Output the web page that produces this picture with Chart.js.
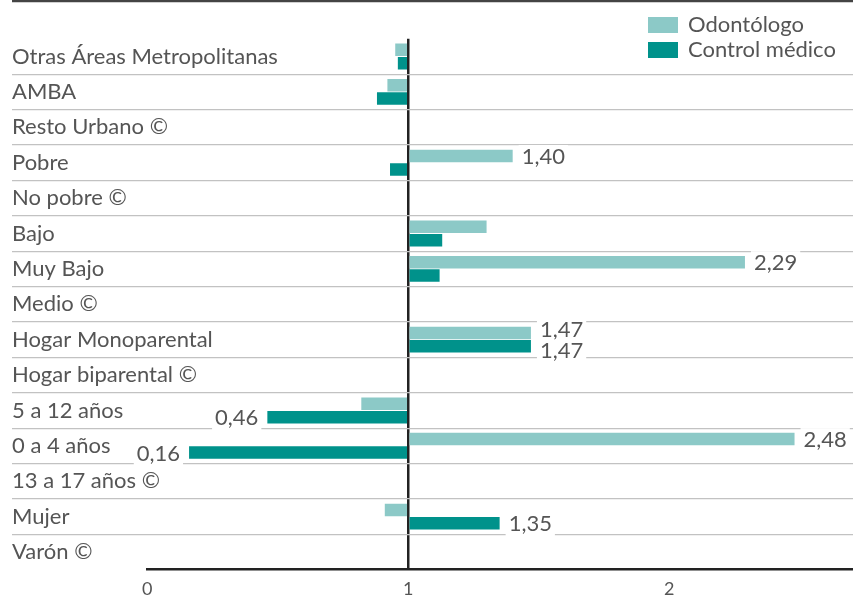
<!DOCTYPE html>
<html>
<head>
<meta charset="utf-8">
<script src="https://cdn.jsdelivr.net/npm/chart.js@4.4.0/dist/chart.umd.min.js"></script>
<style>
  html, body { margin: 0; padding: 0; background: #fff; }
  #wrap { width: 853px; height: 597px; position: relative; }
</style>
</head>
<body>
<div id="wrap"><canvas id="grafico"></canvas></div>
<script>
const categorias = ['Otras Áreas Metropolitanas', 'AMBA', 'Resto Urbano ©', 'Pobre', 'No pobre ©', 'Bajo', 'Muy Bajo', 'Medio ©',
  'Hogar Monoparental', 'Hogar biparental ©', '5 a 12 años', '0 a 4 años', '13 a 17 años ©', 'Mujer', 'Varón ©'];
const odontologo = [0.95, 0.92, null, 1.40, null, 1.30, 2.29, null, 1.47, null, 0.82, 2.48, null, 0.91, null];
const controlMedico = [0.96, 0.88, null, 0.93, null, 1.13, 1.12, null, 1.47, null, 0.46, 0.16, null, 1.35, null];
// which values carry a printed label
const odontologoRotulo = [0, 0, 0, 1, 0, 0, 1, 0, 1, 0, 0, 1, 0, 0, 0];
const controlRotulo = [0, 0, 0, 0, 0, 0, 0, 0, 1, 0, 1, 1, 0, 1, 0];
const ticksX = [0, 1, 2];

Chart.defaults.font.family = 'Lato';
Chart.defaults.color = '#555';

const gris = '#555';
const anchoEje = 135.3;

// value labels with white background, top rule and legend
const rotulos = {
  id: 'rotulos',
  afterDatasetsDraw(chart) {
    const ctx = chart.ctx;
    const sx = chart.scales.x;
    ctx.save();
    ctx.font = '22px Lato';
    ctx.textBaseline = 'middle';
    chart.data.datasets.forEach((ds, di) => {
      const meta = chart.getDatasetMeta(di);
      const otro = chart.data.datasets[1 - di];
      meta.data.forEach((bar, i) => {
        if (!ds.rotulo[i]) return;
        const v = ds.data[i];
        const txt = v.toFixed(2).replace('.', ',');
        const px = sx.getPixelForValue(v);
        let y = bar.y + 1;
        if (otro.rotulo[i] && Math.abs(otro.data[i] - v) < 0.15) y += di === 0 ? -4 : 4;
        const w = ctx.measureText(txt).width;
        let tx;
        if (v >= 1) { ctx.textAlign = 'left'; tx = px + 9; }
        else { ctx.textAlign = 'right'; tx = px - 9; }
        const left = v >= 1 ? tx - 3 : tx - w - 3;
        ctx.fillStyle = '#fff';
        ctx.fillRect(left, y - 12, w + 6, 24);
        ctx.fillStyle = gris;
        ctx.fillText(txt, tx, y);
      });
    });
    ctx.restore();
  },
  afterDraw(chart) {
    const ctx = chart.ctx;
    ctx.save();
    ctx.strokeStyle = '#444';
    ctx.lineWidth = 2.5;
    ctx.beginPath();
    ctx.moveTo(12, 1);
    ctx.lineTo(chart.width, 1);
    ctx.stroke();
    ctx.font = '22px Lato';
    ctx.textBaseline = 'middle';
    ctx.textAlign = 'left';
    chart.data.datasets.forEach((ds, di) => {
      const y = 17 + di * 25;
      ctx.fillStyle = ds.backgroundColor;
      ctx.fillRect(648, y, 30, 16);
      ctx.fillStyle = gris;
      ctx.fillText(ds.label, 688, y + 8);
    });
    ctx.restore();
  }
};

new Chart(document.getElementById('grafico'), {
  type: 'bar',
  data: {
    labels: categorias,
    datasets: [
      { label: 'Odontólogo', data: odontologo, rotulo: odontologoRotulo, base: 1, backgroundColor: '#8cc9c7' },
      { label: 'Control médico', data: controlMedico, rotulo: controlRotulo, base: 1, backgroundColor: '#00928b' }
    ]
  },
  options: {
    indexAxis: 'y',
    responsive: true,
    maintainAspectRatio: false,
    animation: false,
    categoryPercentage: 0.76,
    barPercentage: 0.93,
    layout: { padding: { left: 12, top: 38.8, right: 0, bottom: 0 } },
    plugins: { legend: { display: false }, tooltip: { enabled: false } },
    scales: {
      x: {
        min: 0,
        max: 2.704,
        afterBuildTicks: s => { s.ticks = ticksX.map(v => ({ value: v })); },
        afterFit: s => { s.height = 27.3; },
        ticks: { font: { size: 18 }, color: gris, padding: 9, callback: v => String(v) },
        grid: {
          drawTicks: false,
          color: c => (c.tick && c.tick.value === 1 ? '#222' : 'rgba(0,0,0,0)'),
          lineWidth: c => (c.tick && c.tick.value === 1 ? 2.5 : 0)
        },
        border: { display: true, color: '#222', width: 2.5 }
      },
      y: {
        afterFit: s => { s.width = anchoEje; },
        ticks: { font: { size: 22 }, color: gris, mirror: true, padding: -anchoEje },
        grid: {
          offset: true,
          tickLength: anchoEje,
          color: c => (c.type === 'tick' && c.index > 0 ? '#c2c2c2' : 'rgba(0,0,0,0)'),
          lineWidth: 1.2
        },
        border: { display: false }
      }
    }
  },
  plugins: [rotulos]
});
</script>
</body>
</html>
